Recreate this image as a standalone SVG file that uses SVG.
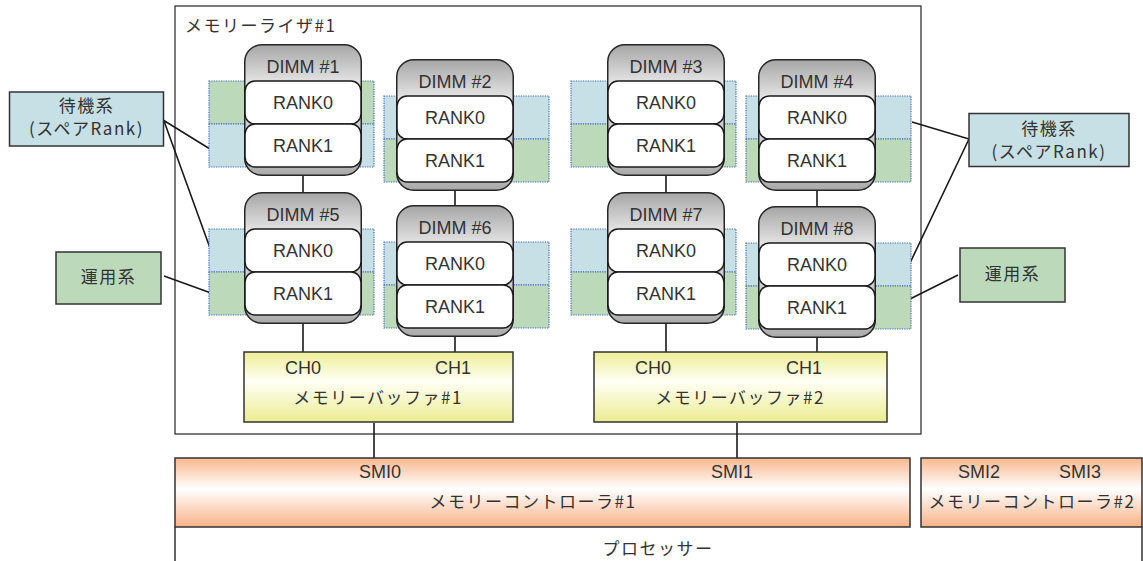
<svg xmlns="http://www.w3.org/2000/svg" xmlns:xlink="http://www.w3.org/1999/xlink" width="1143" height="561" viewBox="0 0 1143 561">
<style>
.lat{font-family:"Liberation Sans",Arial,sans-serif;font-size:18px;fill:#333;text-anchor:middle}
.jp{font-family:"Noto Sans CJK JP","Noto Sans",sans-serif;font-size:17px;fill:#333;text-anchor:middle;letter-spacing:1.5px}
.blue{fill:#c6e0e5;stroke:#3a66c0;stroke-width:1.2;stroke-dasharray:1.2 1.2}
.green{fill:#bcd9b9;stroke:#3a66c0;stroke-width:1.2;stroke-dasharray:1.2 1.2}
.leg{stroke:#333;stroke-width:1.5}
.wire{stroke:#1a1a1a;stroke-width:1.6;fill:none}
.rank{fill:#fff;stroke:#1a1a1a;stroke-width:1.5}
.box{stroke:#333;stroke-width:1.5}
</style>
<defs>
<linearGradient id="gray" x1="0" y1="0" x2="0" y2="1">
<stop offset="0" stop-color="#a6a6a6"/>
<stop offset="0.28" stop-color="#e2e2e2"/>
<stop offset="0.9" stop-color="#bcbcbc"/>
<stop offset="1" stop-color="#a8a8a8"/>
</linearGradient>
<linearGradient id="yel" x1="0" y1="0" x2="0" y2="1">
<stop offset="0" stop-color="#eeee96"/>
<stop offset="0.42" stop-color="#fffff6"/>
<stop offset="1" stop-color="#ecec92"/>
</linearGradient>
<linearGradient id="org" x1="0" y1="0" x2="0" y2="1">
<stop offset="0" stop-color="#f9b88e"/>
<stop offset="0.45" stop-color="#ffffff"/>
<stop offset="1" stop-color="#f8b287"/>
</linearGradient>
<g id="dimmBody">
<rect x="0.75" y="0.75" width="116.5" height="130.5" rx="17" fill="url(#gray)" stroke="#262626" stroke-width="1.5"/>
<rect class="rank" x="1" y="37" width="116" height="43" rx="10"/>
<rect class="rank" x="1" y="80" width="116" height="43" rx="10"/>
<text class="lat" x="59" y="65">RANK0</text>
<text class="lat" x="59" y="108">RANK1</text>
</g>
</defs>

<g id="processor">
<path d="M175 527V561M1142 527V561" stroke="#333" stroke-width="1.5" fill="none"/>
<text class="jp" x="658" y="554.5">プロセッサー</text>
</g>

<g id="riser">
<rect x="175" y="6" width="746" height="428" fill="#fff" stroke="#333" stroke-width="1.3"/>
<text class="jp" x="185" y="31.5" style="text-anchor:start">メモリーライザ#1</text>
</g>

<g id="connectors">
<path class="wire" d="M303 176V192M303 324V352M455 191V205M455 337V352M666 176V192M666 324V352M817 191V206M817 338V352M374 423V458M737 423V458"/>
<path class="wire" d="M163 120L210 149M164 121L210 248M164 276L211 293M912 122L969 139M969 139L910 263M910 299L958 275"/>
</g>

<g id="dimm1">
<rect class="green" x="209" y="81" width="165" height="43"/>
<rect class="blue" x="209" y="124" width="165" height="43"/>
<use xlink:href="#dimmBody" x="244" y="44"/>
<text class="lat" x="303" y="72.5">DIMM #1</text>
</g>
<g id="dimm2">
<rect class="blue" x="384" y="96" width="165" height="43"/>
<rect class="green" x="384" y="139" width="165" height="43"/>
<use xlink:href="#dimmBody" x="396" y="59"/>
<text class="lat" x="455" y="87.5">DIMM #2</text>
</g>
<g id="dimm3">
<rect class="blue" x="571" y="81" width="165" height="43"/>
<rect class="green" x="571" y="124" width="165" height="43"/>
<use xlink:href="#dimmBody" x="607" y="44"/>
<text class="lat" x="666" y="72.5">DIMM #3</text>
</g>
<g id="dimm4">
<rect class="blue" x="746" y="96" width="165" height="43"/>
<rect class="green" x="746" y="139" width="165" height="43"/>
<use xlink:href="#dimmBody" x="758" y="59"/>
<text class="lat" x="817" y="87.5">DIMM #4</text>
</g>
<g id="dimm5">
<rect class="blue" x="209" y="229" width="165" height="43"/>
<rect class="green" x="209" y="272" width="165" height="43"/>
<use xlink:href="#dimmBody" x="244" y="192"/>
<text class="lat" x="303" y="220.5">DIMM #5</text>
</g>
<g id="dimm6">
<rect class="blue" x="384" y="242" width="165" height="43"/>
<rect class="green" x="384" y="285" width="165" height="43"/>
<use xlink:href="#dimmBody" x="396" y="205"/>
<text class="lat" x="455" y="233.5">DIMM #6</text>
</g>
<g id="dimm7">
<rect class="blue" x="571" y="229" width="165" height="43"/>
<rect class="green" x="571" y="272" width="165" height="43"/>
<use xlink:href="#dimmBody" x="607" y="192"/>
<text class="lat" x="666" y="220.5">DIMM #7</text>
</g>
<g id="dimm8">
<rect class="blue" x="746" y="243" width="165" height="43"/>
<rect class="green" x="746" y="286" width="165" height="43"/>
<use xlink:href="#dimmBody" x="758" y="206"/>
<text class="lat" x="817" y="234.5">DIMM #8</text>
</g>

<g id="buffer1">
<rect class="box" x="244" y="352" width="269" height="70" fill="url(#yel)"/>
<text class="lat" x="303" y="374">CH0</text>
<text class="lat" x="453" y="374">CH1</text>
<text class="jp" x="378" y="403.5">メモリーバッファ#1</text>
</g>
<g id="buffer2">
<rect class="box" x="594" y="352" width="293" height="70" fill="url(#yel)"/>
<text class="lat" x="653" y="374">CH0</text>
<text class="lat" x="804" y="374">CH1</text>
<text class="jp" x="740" y="403.5">メモリーバッファ#2</text>
</g>

<g id="mc1">
<rect class="box" x="175" y="458" width="735" height="69" fill="url(#org)"/>
<text class="lat" x="380" y="478">SMI0</text>
<text class="lat" x="732" y="478">SMI1</text>
<text class="jp" x="533" y="508">メモリーコントローラ#1</text>
</g>
<g id="mc2">
<rect class="box" x="921" y="458" width="221" height="69" fill="url(#org)"/>
<text class="lat" x="979" y="478">SMI2</text>
<text class="lat" x="1080" y="478">SMI3</text>
<text class="jp" x="1032" y="508">メモリーコントローラ#2</text>
</g>

<g id="legend-standby-left">
<rect class="leg" x="9.5" y="92" width="154" height="54" fill="#c6e0e5"/>
<text class="jp" x="86.5" y="111.5">待機系</text>
<text class="jp" x="86.5" y="134.5">(スペアRank)</text>
</g>
<g id="legend-active-left">
<rect class="leg" x="56" y="252" width="105" height="52" fill="#bcd9b9"/>
<text class="jp" x="108.5" y="282.5">運用系</text>
</g>
<g id="legend-standby-right">
<rect class="leg" x="969" y="113.5" width="160" height="53" fill="#c6e0e5"/>
<text class="jp" x="1049" y="134.5">待機系</text>
<text class="jp" x="1049" y="158">(スペアRank)</text>
</g>
<g id="legend-active-right">
<rect class="leg" x="960" y="248" width="105" height="54" fill="#bcd9b9"/>
<text class="jp" x="1012.5" y="279.5">運用系</text>
</g>
</svg>
